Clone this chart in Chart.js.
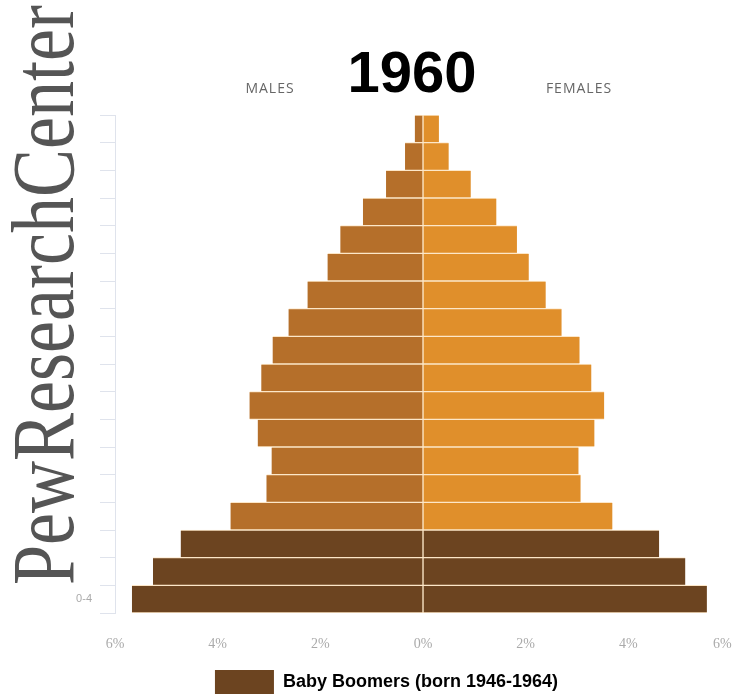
<!DOCTYPE html>
<html lang="en">
<head>
<meta charset="UTF-8">
<title>1960 population pyramid</title>
<script src="https://cdn.jsdelivr.net/npm/chart.js"></script>
<style>
  body { margin: 0; background: #fff; }
  #wrap { width: 735px; height: 694px; }
</style>
</head>
<body>
<div id="wrap"><canvas id="pyramid"></canvas></div>
<script>
// age groups, top row first
const ageGroups = ['85+', '80-84', '75-79', '70-74', '65-69', '60-64', '55-59', '50-54', '45-49',
  '40-44', '35-39', '30-34', '25-29', '20-24', '15-19', '10-14', '5-9', '0-4'];
// percent of population
const males   = [0.16, 0.35, 0.72, 1.17, 1.61, 1.86, 2.25, 2.62, 2.93, 3.15, 3.38, 3.22, 2.95, 3.05, 3.75, 4.72, 5.26, 5.67];
const females = [0.31, 0.50, 0.93, 1.43, 1.83, 2.06, 2.39, 2.70, 3.05, 3.28, 3.53, 3.34, 3.03, 3.07, 3.69, 4.60, 5.11, 5.53];
const boomerGroups = ['0-4', '5-9', '10-14'];
const xTicks = [-6, -4, -2, 0, 2, 4, 6];

const BOOMER = '#6c4420';
const maleColors = ageGroups.map(a => boomerGroups.includes(a) ? BOOMER : '#b56f2a');
const femaleColors = ageGroups.map(a => boomerGroups.includes(a) ? BOOMER : '#e08f2b');

// title, side labels and the vertical watermark
const decor = {
  id: 'decor',
  beforeDraw(chart) {
    const ctx = chart.ctx;
    ctx.save();
    ctx.fillStyle = '#555';
    ctx.font = '88px "Liberation Serif", serif';
    ctx.textAlign = 'left';
    ctx.textBaseline = 'alphabetic';
    const word = 'PewResearchCenter';
    const w = ctx.measureText(word).width;
    ctx.translate(73, 585);
    ctx.rotate(-Math.PI / 2);
    ctx.scale(580 / w, 1);
    ctx.fillText(word, 0, 0);
    ctx.restore();
  },
  afterDraw(chart) {
    const ctx = chart.ctx;
    ctx.save();
    ctx.textAlign = 'center';
    ctx.textBaseline = 'alphabetic';
    ctx.fillStyle = '#000';
    ctx.font = 'bold 58px "Liberation Sans", Arial, sans-serif';
    ctx.fillText('1960', 412, 92);
    ctx.fillStyle = '#666';
    ctx.font = '14px "Open Sans", sans-serif';
    ctx.letterSpacing = '1px';
    ctx.fillText('MALES', 270, 93);
    ctx.fillText('FEMALES', 579, 93);
    ctx.restore();
  }
};

new Chart(document.getElementById('pyramid'), {
  type: 'bar',
  data: {
    labels: ageGroups,
    datasets: [{
      label: 'Males',
      data: males.map(v => -v),
      backgroundColor: maleColors,
      borderColor: '#fde7c8',
      borderWidth: { top: 1, bottom: 1, right: 1, left: 0 },
      borderSkipped: false,
      barPercentage: 1,
      categoryPercentage: 1
    }, {
      label: 'Females',
      data: females,
      backgroundColor: femaleColors,
      borderColor: '#fde7c8',
      borderWidth: { top: 1, bottom: 1, left: 1, right: 0 },
      borderSkipped: false,
      barPercentage: 1,
      categoryPercentage: 1
    }]
  },
  options: {
    indexAxis: 'y',
    responsive: true,
    maintainAspectRatio: false,
    animation: false,
    layout: { padding: { top: 115, left: 42, right: 4, bottom: -10 } },
    scales: {
      x: {
        stacked: true,
        min: -6,
        max: 6,
        afterBuildTicks: s => { s.ticks = xTicks.map(v => ({ value: v })); },
        afterFit: s => { s.height = 57; s.paddingLeft = 0; s.paddingRight = 0; },
        grid: { display: false },
        border: { display: false },
        ticks: {
          padding: 15,
          color: '#aaa',
          font: { size: 14, family: 'Liberation Serif' },
          // last label nudged inward so it stays on the canvas
          callback: v => Math.abs(v) + '%' + (v === 6 ? '\u00a0\u00a0\u00a0\u00a0\u00a0' : '')
        }
      },
      y: {
        stacked: true,
        afterFit: s => { s.width = 73; },
        grid: { drawOnChartArea: false, tickLength: 15, color: '#dfe3ec', offset: true },
        border: { color: '#dfe3ec' },
        ticks: {
          padding: 8,
          color: '#aaa',
          font: { size: 11 },
          callback: function (v) {
            const lab = this.getLabelForValue(v);
            return lab === '0-4' ? lab : '';
          }
        }
      }
    },
    plugins: {
      tooltip: { enabled: false },
      legend: {
        position: 'bottom',
        labels: {
          boxWidth: 59,
          boxHeight: 24,
          padding: 0,
          color: '#444',
          font: { size: 18, weight: 'bold', family: 'Liberation Sans' },
          generateLabels: () => [{
            text: 'Baby Boomers (born 1946-1964)',
            fillStyle: BOOMER,
            strokeStyle: BOOMER,
            lineWidth: 0,
            hidden: false,
            datasetIndex: 0
          }]
        },
        onClick: () => {}
      }
    }
  },
  plugins: [decor]
});
</script>
</body>
</html>
